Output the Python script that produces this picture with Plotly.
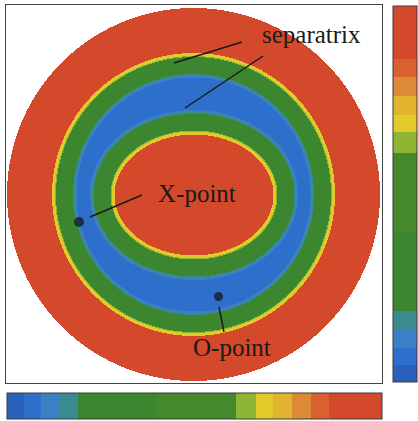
import numpy as np
import plotly.graph_objects as go

# ---- field geometry (units: px, origin at the wall centre, y up) ----
wall_radius = 186.5
outer_sep_radius = 140.0
core_centre = [0.5, -0.5]
core_semi_axes = [81.0, 62.0]

# depth below the separatrix (px) -> colour level
band_edges = [-1.5, 1.5, 2.5, 19.5, 21.0, 23.0]
band_levels = [0.93, 0.69, 0.64, 0.35, 0.16, 0.11, 0.06]

# critical points of the island
xpoint = [-114.5, -27.5]
opoint = [25.0, -102.0]

# stepped colour table shared by the map and both colour bars
scale_bounds = [0.0, 0.045, 0.09, 0.14, 0.19, 0.40, 0.61, 0.665, 0.71, 0.76, 0.81, 0.86, 1.0]
scale_colours = ["#2a5fbb", "#2f6fcc", "#3a80c4", "#3b8a8f", "#3c8630", "#44892b",
                 "#8fb536", "#e0cb2a", "#e2b42d", "#db8a35", "#d9612f", "#d4482b"]

colorscale = []
for lo, hi, c in zip(scale_bounds[:-1], scale_bounds[1:], scale_colours):
    colorscale.append([lo, c])
    colorscale.append([hi, c])

# ---- build the map ----
xs = np.arange(-187.0, 189.0, 1.0)
ys = np.arange(-188.0, 190.0, 1.0)
X, Y = np.meshgrid(xs, ys)
R = np.hypot(X, Y)

d_out = outer_sep_radius - R
a, b = core_semi_axes
cx, cy = core_centre
u, v = X - cx, Y - cy
rho = np.sqrt((u / a) ** 2 + (v / b) ** 2)
grad = np.sqrt((u / a**2) ** 2 + (v / b**2) ** 2) + 1e-9
d_in = (rho - 1.0) * rho / grad
depth = np.minimum(d_out, d_in)

Z = np.array(band_levels)[np.digitize(depth, band_edges)]
Z = np.where(R <= wall_radius, Z, np.nan)
Z = np.round(Z, 2)
z_list = [[None if np.isnan(val) else float(val) for val in row] for row in Z]

W, H = 418, 421
fig = go.Figure()

fig.add_trace(go.Heatmap(
    x=xs, y=ys, z=z_list, zmin=0, zmax=1, colorscale=colorscale,
    zsmooth=False, hoverinfo="skip",
    colorbar=dict(
        orientation="v", thickness=24, lenmode="pixels", len=376,
        x=393 / W, xanchor="left", xpad=0,
        y=1 - 6 / H, yanchor="top", ypad=0,
        outlinewidth=1, outlinecolor="#3a3a3a",
        showticklabels=False, ticks="",
    ),
))

# horizontal colour bar
fig.add_trace(go.Scatter(
    x=[None], y=[None], mode="markers", hoverinfo="skip", showlegend=False,
    marker=dict(
        color=[0.5], cmin=0, cmax=1, colorscale=colorscale, showscale=True,
        colorbar=dict(
            orientation="h", thickness=26, lenmode="pixels", len=375,
            x=7 / W, xanchor="left", xpad=0,
            y=1 - 393 / H, yanchor="top", ypad=0,
            outlinewidth=1, outlinecolor="#3a3a3a",
            showticklabels=False, ticks="",
        ),
    ),
))

# X- and O-points
fig.add_trace(go.Scatter(
    x=[xpoint[0], opoint[0]], y=[xpoint[1], opoint[1]], mode="markers",
    marker=dict(color="#111111", size=[10, 9], line=dict(width=0)),
    hoverinfo="skip", showlegend=False,
))

# callout leader lines and labels
leaders = [
    ((48.5, 152.5), (-19.5, 131.5)),
    ((69.5, 138.5), (-8.5, 86.5)),
    ((-51.5, -0.5), (-103.5, -22.5)),
    ((25.5, -112.5), (30.5, -137.5)),
]
for (x0, y0), (x1, y1) in leaders:
    fig.add_shape(type="line", x0=x0, y0=y0, x1=x1, y1=y1,
                  line=dict(color="#1a1a1a", width=1.5), layer="above")

labels = [("separatrix", 118.0, 160.0), ("X-point", 3.0, 1.0), ("O-point", 38.5, -153.0)]
for text, lx, ly in labels:
    fig.add_annotation(x=lx, y=ly, text=text, showarrow=False,
                       xanchor="center", yanchor="middle",
                       font=dict(family="Liberation Serif", size=25, color="#1a1a1a"))

axis_common = dict(showgrid=False, zeroline=False, showticklabels=False, ticks="",
                   showline=True, mirror=True, linecolor="#444444", linewidth=1)
fig.update_layout(
    width=W, height=H,
    margin=dict(l=0, r=0, t=0, b=0),
    paper_bgcolor="white", plot_bgcolor="white",
    showlegend=False,
    xaxis=dict(domain=[6 / W, 382 / W], range=[-187.5, 188.5], **axis_common),
    yaxis=dict(domain=[1 - 383 / H, 1 - 5 / H], range=[-188.5, 189.5], **axis_common),
)

fig.write_html("out.html")
